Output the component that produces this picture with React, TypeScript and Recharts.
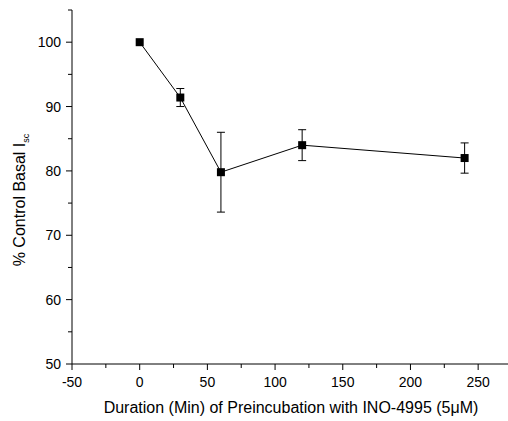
import React from 'react'
import { LineChart, Line, XAxis, YAxis, ErrorBar } from 'recharts'

const minutes = [0, 30, 60, 120, 240]
const percentControl = [100, 91.4, 79.8, 84.0, 82.0]
const sem = [0, 1.4, 6.2, 2.4, 2.35]

const xTicks = [-50, -25, 0, 25, 50, 75, 100, 125, 150, 175, 200, 225, 250, 275]
const yTicks = [50, 55, 60, 65, 70, 75, 80, 85, 90, 95, 100, 105]

const FONT = '"Liberation Sans", Arial, Helvetica, sans-serif'
const TICK_SIZE = 6
const X_MARGIN = 7
const Y_MARGIN = 5

const data = minutes.map((m, i) => ({ m, v: percentControl[i], err: sem[i] }))

const XTick = ({ x, y, payload }: any) => {
  const axisY = y - TICK_SIZE - X_MARGIN
  const major = payload.value % 50 === 0
  return (
    <g>
      <line x1={x} x2={x} y1={axisY} y2={axisY + (major ? 6 : 4)} stroke="#000" />
      {major && (
        <text x={x} y={y} dy="0.71em" textAnchor="middle" fontSize={14} fontFamily={FONT} fill="#000">
          {payload.value}
        </text>
      )}
    </g>
  )
}

const YTick = ({ x, y, payload }: any) => {
  const axisX = x + TICK_SIZE + Y_MARGIN
  const major = payload.value % 10 === 0
  return (
    <g>
      <line x1={axisX} x2={axisX - (major ? 6 : 4)} y1={y} y2={y} stroke="#000" />
      {major && (
        <text x={x} y={y} dy="0.36em" textAnchor="end" fontSize={14} fontFamily={FONT} fill="#000">
          {payload.value}
        </text>
      )}
    </g>
  )
}

const SquareDot = ({ cx, cy }: any) => (
  <rect x={cx - 4} y={cy - 4} width={8} height={8} fill="#000" />
)

export default function App() {
  return (
    <div style={{ position: 'absolute', left: 0, top: 0, width: 508, height: 421, overflow: 'hidden', background: '#fff' }}>
      <LineChart width={512} height={421} data={data} margin={{ top: 10, right: 0, bottom: 0, left: 0 }}>
        <XAxis
          dataKey="m"
          type="number"
          domain={[-50, 275]}
          ticks={xTicks}
          interval={0}
          height={57}
          axisLine={{ stroke: '#000' }}
          tickLine={false}
          tickSize={TICK_SIZE}
          tickMargin={X_MARGIN}
          tick={<XTick />}
          label={{
            content: () => (
              <text x={291} y={413} textAnchor="middle" fontSize={16} fontFamily={FONT} fill="#000">
                Duration (Min) of Preincubation with INO-4995 (5μM)
              </text>
            ),
          }}
        />
        <YAxis
          type="number"
          domain={[50, 105]}
          ticks={yTicks}
          interval={0}
          width={72}
          axisLine={{ stroke: '#000' }}
          tickLine={false}
          tickSize={TICK_SIZE}
          tickMargin={Y_MARGIN}
          tick={<YTick />}
          label={{
            content: () => (
              <text
                x={25}
                y={200}
                transform="rotate(-90, 25, 200)"
                textAnchor="middle"
                fontSize={16}
                fontFamily={FONT}
                fill="#000"
              >
                % Control Basal I
                <tspan fontSize={9} dy={4}>sc</tspan>
              </text>
            ),
          }}
        />
        <Line
          dataKey="v"
          stroke="#000"
          strokeWidth={1}
          dot={<SquareDot />}
          activeDot={false}
          isAnimationActive={false}
        >
          <ErrorBar dataKey="err" direction="y" width={4} stroke="#000" strokeWidth={1} isAnimationActive={false} />
        </Line>
      </LineChart>
    </div>
  )
}
